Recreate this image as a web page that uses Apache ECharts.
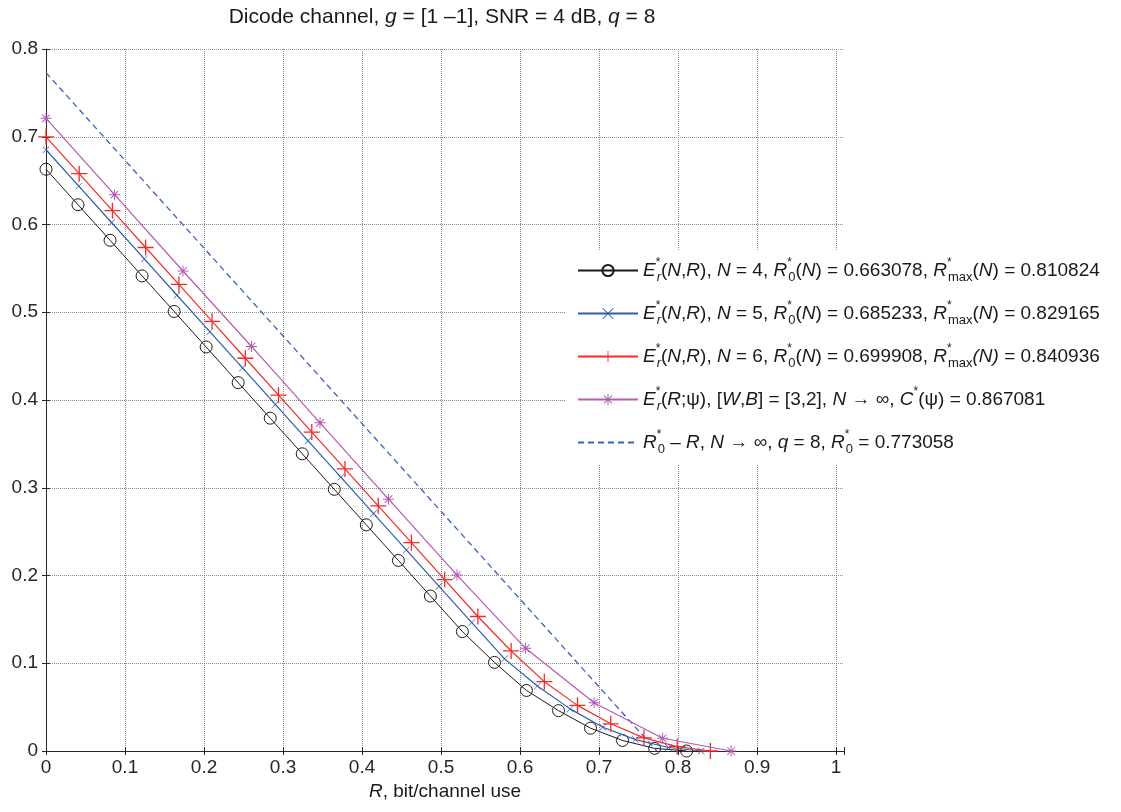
<!DOCTYPE html>
<html>
<head>
<meta charset="utf-8">
<script src="https://cdn.jsdelivr.net/npm/echarts@6/dist/echarts.min.js"></script>
<style>
html,body{margin:0;padding:0;background:#fff;}
#chart{width:1121px;height:812px;}
</style>
</head>
<body>
<div id="chart"></div>
<script>
// ---- data ----
const rN4 = [0, 0.0405, 0.0811, 0.1216, 0.1622, 0.2027, 0.2432, 0.2838, 0.3243, 0.3649, 0.4054, 0.4460, 0.4865, 0.5270, 0.5676, 0.6081, 0.6487, 0.6892, 0.7297, 0.7703, 0.8108];
const eN4 = [0.663, 0.6225, 0.5820, 0.5414, 0.5009, 0.4604, 0.4198, 0.3793, 0.3387, 0.2982, 0.2577, 0.2171, 0.1766, 0.1361, 0.101, 0.069, 0.046, 0.026, 0.012, 0.003, 0];

const rN5 = [0, 0.0415, 0.0829, 0.1244, 0.1658, 0.2073, 0.2487, 0.2902, 0.3317, 0.3731, 0.4146, 0.4560, 0.4975, 0.5389, 0.5804, 0.6219, 0.6633, 0.7048, 0.7462, 0.7877, 0.8292];
const eN5 = [0.6852, 0.6437, 0.6023, 0.5608, 0.5194, 0.4779, 0.4365, 0.3950, 0.3535, 0.3121, 0.2706, 0.2292, 0.1877, 0.1463, 0.105, 0.074, 0.048, 0.027, 0.013, 0.004, 0];

const rN6 = [0, 0.0420, 0.0841, 0.1261, 0.1682, 0.2102, 0.2523, 0.2943, 0.3364, 0.3784, 0.4205, 0.4625, 0.5046, 0.5466, 0.5887, 0.6307, 0.6727, 0.7148, 0.7568, 0.7989, 0.8409];
const eN6 = [0.6999, 0.6579, 0.6158, 0.5738, 0.5317, 0.4897, 0.4476, 0.4056, 0.3635, 0.3215, 0.2794, 0.2374, 0.1953, 0.1533, 0.114, 0.079, 0.052, 0.031, 0.015, 0.005, 0];

const rPsi = [0, 0.0867, 0.1734, 0.2601, 0.3468, 0.4335, 0.5202, 0.6070, 0.6937, 0.7804, 0.8671];
const ePsi = [0.721, 0.634, 0.547, 0.461, 0.374, 0.287, 0.2005, 0.117, 0.055, 0.0145, 0];

const rR0 = [0, 0.773058];
const eR0 = [0.773058, 0];

const xTicks = [0, 0.1, 0.2, 0.3, 0.4, 0.5, 0.6, 0.7, 0.8, 0.9, 1];
const yTicks = [0, 0.1, 0.2, 0.3, 0.4, 0.5, 0.6, 0.7, 0.8];

// ---- helpers ----
function pairs(xs, ys){ return xs.map((x,i)=>[x, ys[i]]); }
const FONT = '"Liberation Sans", Arial, Helvetica, sans-serif';
const FS = 19;

const SYM_PLUS = 'path://M-0.65,-8 L0.65,-8 L0.65,8 L-0.65,8 Z M-8,-0.65 L8,-0.65 L8,0.65 L-8,0.65 Z';
const SYM_X = 'path://M-8,-7 L-7,-8 L8,7 L7,8 Z M7,-8 L8,-7 L-7,8 L-8,7 Z';
const SYM_STAR = 'path://M-0.7,-8 L0.7,-8 L0.7,8 L-0.7,8 Z M-8,-0.7 L8,-0.7 L8,0.7 L-8,0.7 Z M-6,-5 L-5,-6 L6,5 L5,6 Z M5,-6 L6,-5 L-5,6 L-6,5 Z';

const rich = {
  n: {fontSize: FS, fontFamily: FONT, color: '#1a1a1a', lineHeight: 27},
  i: {fontSize: FS, fontFamily: FONT, fontStyle: 'italic', color: '#1a1a1a', lineHeight: 27},
  sup: {fontSize: 12, fontFamily: FONT, color: '#1a1a1a', verticalAlign: 'top', lineHeight: 13},
  supz: {fontSize: 12, fontFamily: FONT, color: '#1a1a1a', verticalAlign: 'top', lineHeight: 13, width: 1},
  sub: {fontSize: 13, fontFamily: FONT, color: '#1a1a1a', verticalAlign: 'bottom', lineHeight: 13},
  subi: {fontSize: 13, fontFamily: FONT, fontStyle: 'italic', color: '#1a1a1a', verticalAlign: 'bottom', lineHeight: 13}
};

const legendText = {
  'N4': '{i|E}{supz|*}{subi|r}{n|(}{i|N}{n|,}{i|R}{n|), }{i|N}{n| = 4, }{i|R}{supz|*}{sub|0}{n|(}{i|N}{n|) = 0.663078, }{i|R}{supz|*}{sub|max}{n|(}{i|N}{n|) = 0.810824}',
  'N5': '{i|E}{supz|*}{subi|r}{n|(}{i|N}{n|,}{i|R}{n|), }{i|N}{n| = 5, }{i|R}{supz|*}{sub|0}{n|(}{i|N}{n|) = 0.685233, }{i|R}{supz|*}{sub|max}{n|(}{i|N}{n|) = 0.829165}',
  'N6': '{i|E}{supz|*}{subi|r}{n|(}{i|N}{n|,}{i|R}{n|), }{i|N}{n| = 6, }{i|R}{supz|*}{sub|0}{n|(}{i|N}{n|) = 0.699908, }{i|R}{supz|*}{sub|max}{i|(N)}{n| = 0.840936}',
  'PSI': '{i|E}{supz|*}{subi|r}{n|(}{i|R}{n|;ψ), [}{i|W}{n|,}{i|B}{n|] = [3,2], }{i|N}{n| → ∞, }{i|C}{sup|*}{n|(ψ) = 0.867081}',
  'R0': '{i|R}{supz|*}{sub|0}{n| – }{i|R}{n|, }{i|N}{n| → ∞, }{i|q}{n| = 8, }{i|R}{supz|*}{sub|0}{n| = 0.773058}'
};

const chart = echarts.init(document.getElementById('chart'), null, {renderer: 'canvas'});

function fmt(v){
  for (const t of xTicks){ if (Math.abs(v - t) < 1e-6) return t === 0 ? '0' : (t === 1 ? '1' : String(t)); }
  return '';
}

const option = {
  animation: false,
  backgroundColor: '#fff',
  grid: {left: 46, right: 277, top: 49, bottom: 61, containLabel: false},
  xAxis: [{
    type: 'value', min: 0, max: 1.01, interval: 0.1, position: 'bottom',
    axisLine: {show: true, onZero: false, lineStyle: {color: '#262626', width: 1}},
    axisTick: {show: true, inside: true, length: 4, lineStyle: {color: '#262626'}},
    axisLabel: {fontSize: FS, fontFamily: FONT, color: '#262626', margin: 7, formatter: fmt, showMaxLabel: true},
    splitLine: {show: true, showMaxLine: false, lineStyle: {color: '#8a8a8a', type: [1, 1], width: 1}}
  }, {
    type: 'value', min: 0, max: 1.01, interval: 0.1, position: 'top',
    axisLine: {show: false},
    axisTick: {show: true, inside: true, length: 4, lineStyle: {color: '#262626'}},
    axisLabel: {show: false},
    splitLine: {show: false}
  }],
  yAxis: [{
    type: 'value', min: 0, max: 0.8, interval: 0.1, position: 'left',
    axisLine: {show: true, onZero: false, lineStyle: {color: '#262626', width: 1}},
    axisTick: {show: true, inside: true, length: 4, lineStyle: {color: '#262626'}},
    axisLabel: {fontSize: FS, fontFamily: FONT, color: '#262626', margin: 8,
      formatter: v => (Math.abs(v) < 1e-9 ? '0' : v.toFixed(1))},
    splitLine: {show: true, lineStyle: {color: '#8a8a8a', type: [1, 1], width: 1}}
  }, {
    type: 'value', min: 0, max: 0.8, interval: 0.1, position: 'right',
    axisLine: {show: false},
    axisTick: {show: true, inside: true, length: 4, lineStyle: {color: '#262626'}},
    axisLabel: {show: false},
    splitLine: {show: false}
  }],
  legend: {
    orient: 'vertical',
    left: 565, top: 251,
    backgroundColor: '#ffffff',
    padding: [6, 8, 8, 12],
    itemGap: 16,
    itemWidth: 60,
    itemHeight: 14,
    data: ['N4', 'N5', 'N6', 'PSI',
      {name: 'R0', itemStyle: {color: 'rgba(0,0,0,0)', borderColor: 'rgba(0,0,0,0)', borderWidth: 0, opacity: 0}}],
    formatter: name => legendText[name],
    textStyle: {fontSize: FS, fontFamily: FONT, color: '#1a1a1a', rich: rich}
  },
  graphic: [{
    type: 'text', x: 442, y: 7, z: 100,
    style: {
      text: '{n|Dicode channel, }{i|g}{n| = [1 –1], SNR = 4 dB, }{i|q}{n| = 8}',
      rich: {
        n: {fontSize: 21, fontFamily: FONT, fill: '#1a1a1a'},
        i: {fontSize: 21, fontFamily: FONT, fontStyle: 'italic', fill: '#1a1a1a'}
      },
      align: 'center', verticalAlign: 'top'
    }
  }, {
    type: 'text', x: 445, y: 782, z: 100,
    style: {
      text: '{i|R}{n|, bit/channel use}',
      rich: {
        n: {fontSize: FS, fontFamily: FONT, fill: '#1a1a1a'},
        i: {fontSize: FS, fontFamily: FONT, fontStyle: 'italic', fill: '#1a1a1a'}
      },
      align: 'center', verticalAlign: 'top'
    }
  }],
  series: [{
    name: 'N4', type: 'line', data: pairs(rN4, eN4),
    symbol: 'circle', symbolSize: 12, showAllSymbol: true,
    lineStyle: {color: '#1a1a1a', width: 1},
    itemStyle: {color: 'rgba(255,255,255,0)', borderColor: '#1a1a1a', borderWidth: 1},
    z: 3
  }, {
    name: 'N5', type: 'line', data: pairs(rN5, eN5),
    symbol: SYM_X, symbolSize: 7, showAllSymbol: true,
    lineStyle: {color: '#2d5eae', width: 1.2},
    itemStyle: {color: '#2d5eae'},
    z: 4
  }, {
    name: 'N6', type: 'line', data: pairs(rN6, eN6),
    symbol: SYM_PLUS, symbolSize: 16, showAllSymbol: true,
    lineStyle: {color: '#f42a2a', width: 1.2},
    itemStyle: {color: '#f42a2a'},
    z: 5
  }, {
    name: 'PSI', type: 'line', data: pairs(rPsi, ePsi),
    symbol: SYM_STAR, symbolSize: 11, showAllSymbol: true,
    lineStyle: {color: '#b35ab3', width: 1.2},
    itemStyle: {color: '#b35ab3'},
    z: 6
  }, {
    name: 'R0', type: 'line', data: pairs(rR0, eR0),
    symbol: 'none',
    lineStyle: {color: '#3566b6', width: 1.3, type: [6, 4]},
    itemStyle: {color: '#3566b6'},
    z: 2
  }]
};
chart.setOption(option);
</script>
</body>
</html>
